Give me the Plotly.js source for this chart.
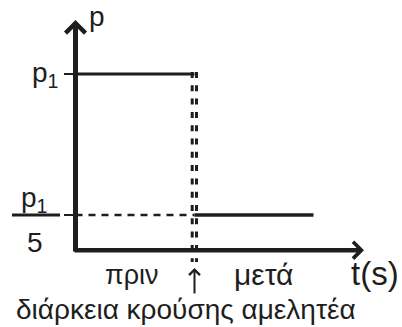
<!DOCTYPE html>
<html><head><meta charset="utf-8">
<script src="https://cdn.plot.ly/plotly-3.0.1.min.js"></script>
<style>html,body{margin:0;padding:0;background:#fff;overflow:hidden}</style>
</head><body><div id="chart" style="width:402px;height:327px"></div>
<script>
// ---- data ----
const collisionTime = 1;           // instant of the (negligible-duration) collision
const tBefore = [0, 1];
const pBefore = [5, 5];            // p1
const tAfter = [1, 2];
const pAfter = [1, 1];             // p1/5
const tickVals = [5, 1];           // p1, p1/5
const axisTitles = ['t(s)', 'p'];
const regionLabels = ['πριν', 'μετά'];
const noteText = 'διάρκεια κρούσης αμελητέα';

// ---- layout helpers ----
const W = 402, H = 327;
const X0 = 75.5, UX = 119;         // pixel of t=0, pixels per time unit
const Y0 = 250.2, UY = 35.25;      // pixel of p=0, pixels per momentum unit
const ink = '#1e1e1e';
const font = 'Liberation Sans, Arial, sans-serif';
const px = v => v / W, py = v => 1 - v / H;
const dataY = pix => (Y0 - pix) / UY;
const dataX = pix => (pix - X0) / UX;

const traces = [
  {x: tBefore, y: pBefore, mode: 'lines', line: {color: ink, width: 3}, hoverinfo: 'skip'},
  {x: [0, collisionTime], y: pAfter, mode: 'lines', line: {color: ink, width: 2.5, dash: '7px,6px'}, hoverinfo: 'skip'},
  {x: tAfter, y: pAfter, mode: 'lines', line: {color: ink, width: 3.5}, hoverinfo: 'skip'}
];

const dotted = dx => ({
  type: 'line', xref: 'x', xsizemode: 'pixel', xanchor: collisionTime, x0: dx, x1: dx,
  yref: 'y', y0: dataY(72), y1: dataY(262),
  line: {color: ink, width: 3, dash: '6px,7.3px'}
});

const shapes = [
  dotted(-2.3), dotted(2.0),
  {type: 'line', xref: 'paper', x0: px(12), x1: px(60), yref: 'y', y0: pAfter[0], y1: pAfter[0],
   line: {color: ink, width: 3}}
];

const txt = (text, x, y, size) => ({
  text, xref: 'paper', yref: 'paper', x: px(x), y: py(y), xanchor: 'center', yanchor: 'middle',
  showarrow: false, font: {family: font, size, color: ink}
});

const annotations = [
  // axis arrows
  {x: 0, y: dataY(20), xref: 'x', yref: 'y', axref: 'x', ayref: 'y', ax: 0, ay: dataY(253),
   text: '', showarrow: true, arrowhead: 4, arrowsize: 0.77, arrowwidth: 5, arrowcolor: ink},
  {x: dataX(364), y: 0, xref: 'x', yref: 'y', axref: 'x', ayref: 'y', ax: dataX(73), ay: 0,
   text: '', showarrow: true, arrowhead: 4, arrowsize: 0.72, arrowwidth: 4.5, arrowcolor: ink},
  // small arrow marking the collision
  {x: collisionTime, y: dataY(268), xref: 'x', yref: 'y', ax: 0, ay: 27,
   text: '', showarrow: true, arrowhead: 4, arrowsize: 1.05, arrowwidth: 2, arrowcolor: ink},
  txt(axisTitles[1], 96.5, 16.5, 28),
  txt('p<sub>1</sub>', 45, 75, 28),
  txt('p<sub>1</sub>', 34, 199, 28),
  txt('5', 35, 242, 28),
  txt(regionLabels[0], 131.5, 274.5, 27),
  txt(regionLabels[1], 263, 274.5, 30),
  txt(axisTitles[0], 375, 273, 33),
  txt(noteText, 186, 309.5, 28)
];

const layout = {
  width: W, height: H, margin: {l: 0, r: 0, t: 0, b: 0, pad: 0},
  paper_bgcolor: '#fff', plot_bgcolor: '#fff', showlegend: false,
  xaxis: {range: [dataX(0), dataX(W)], showgrid: false, zeroline: false, showline: false,
          showticklabels: false, ticks: ''},
  yaxis: {range: [dataY(H), dataY(0)], anchor: 'free', position: X0 / W, showgrid: false,
          zeroline: false, showline: false, showticklabels: false,
          tickvals: tickVals, ticks: 'outside', ticklen: 12, tickwidth: 2, tickcolor: ink},
  shapes, annotations
};

Plotly.newPlot('chart', traces, layout, {staticPlot: true, displayModeBar: false});
</script></body></html>
